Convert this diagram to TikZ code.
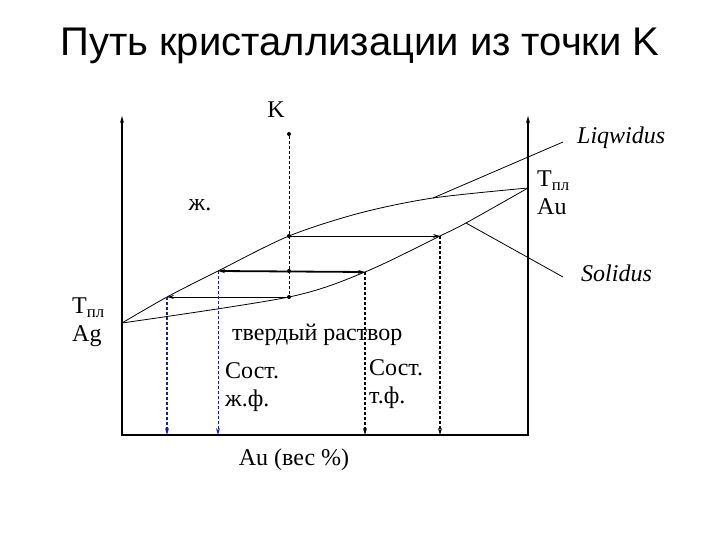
\documentclass[tikz,border=0pt]{standalone}
\usepackage{fontspec}
\setmainfont{Liberation Serif}
\newfontfamily\titlefont{Liberation Sans}
\usetikzlibrary{arrows.meta}

\definecolor{dropblue}{RGB}{25,25,170}

\begin{document}
\begin{tikzpicture}[x=1pt,y=-1pt,>={Stealth[length=7pt,width=4pt]},font=\fontsize{24}{28}\selectfont]
    \tikzstyle{axis}=[line width=2.4pt,line join=miter]
    \tikzstyle{curve}=[line width=0.8pt]
    \tikzstyle{dot}=[circle,fill=black,inner sep=0pt,minimum size=4pt]
    \tikzstyle{drop}=[densely dashed,->,line width=1.6pt]
    \tikzstyle{tie}=[->,line width=0.9pt]
    \tikzstyle{lbl}=[inner sep=0pt,align=left]
    \useasboundingbox (0,0) rectangle (720,540);

    % axes and melting points
    \coordinate (o)     at (122,435);
    \coordinate (e)     at (528,435);
    \coordinate (ytop)  at (122,116);
    \coordinate (ytop2) at (528,116);
    \coordinate (ag)    at (122,323);
    \coordinate (au)    at (528,188);
    \draw[axis,<->] (ytop) -- (o) -- (e) -- (ytop2);

    % points on liquidus and solidus
    \coordinate (a1) at (167,297);
    \coordinate (b1) at (218,271);
    \coordinate (k1) at (289,236);
    \coordinate (l1) at (360,213);
    \coordinate (l2) at (433,198);
    \coordinate (k3) at (289,297);
    \coordinate (b2) at (365,272);
    \coordinate (s1) at (466,223);
    \coordinate (a2) at (440,236);
    \draw[curve] plot[smooth,tension=0.5] coordinates {(ag) (a1) (b1) (k1) (l1) (l2) (au)};
    \draw[curve] plot[smooth,tension=0.5] coordinates {(ag) (k3) (b2) (a2) (s1) (au)};

    % point K and its path
    \node [dot] (k)  at (289,134) {};
    \node [dot] (d1) at (k1) {};
    \node [dot] (d2) at (289,271) {};
    \node [dot] (d3) at (k3) {};
    \draw[densely dashed,line width=0.8pt] (k) -- (d3);

    \draw[tie] (k1) -- (a2);
    \draw[tie,<->,line width=1.8pt] (b1) -- (b2);
    \draw[tie] (k3) -- (a1);

    \draw[drop,dropblue] (a1) -- (a1 |- o);
    \draw[drop,dropblue,line width=0.9pt] (b1) -- (b1 |- o);
    \draw[drop] (b2) -- (b2 |- o);
    \draw[drop] (a2) -- (a2 |- o);

    % labels
    \node [font=\titlefont\fontsize{40}{44}\selectfont] (title) at (360,46) {Путь кристаллизации из точки K};
    \node [lbl] (lblK) at (276,110) {K};
    \node [lbl] (lblLiquid) at (200,205) {ж.};
    \node [lbl,anchor=west] (lblAg) at (72,322) {T\textsubscript{пл}\\Ag};
    \node [lbl,anchor=west] (lblAu) at (537,193) {T\textsubscript{пл}\\Au};
    \node [lbl,anchor=west] (lblSolid) at (232,335) {твердый раствор};
    \node [lbl,anchor=west] (lblCompL) at (225,387) {Сост.\\ж.ф.};
    \node [lbl,anchor=west] (lblCompS) at (369,384) {Сост.\\т.ф.};
    \node [lbl] (lblAxis) at (294,460) {Au (вес \%)};
    \node [lbl,anchor=west] (lblLiq) at (577,138) {\textit{Liqwidus}};
    \node [lbl,anchor=west] (lblSol) at (581,273) {\textit{Solidus}};

    \coordinate (lq) at (563,142);
    \coordinate (sq) at (563,277);
    \draw[curve] (l2) -- (lq);
    \draw[curve] (s1) -- (sq);

\end{tikzpicture}
\end{document}
